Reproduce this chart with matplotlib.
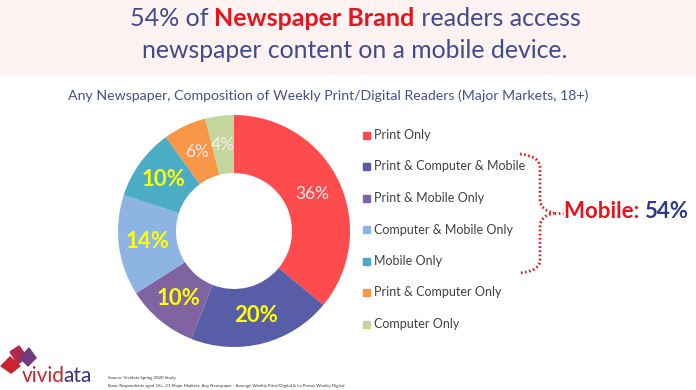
import matplotlib
matplotlib.use("Agg")
import matplotlib.pyplot as plt
import numpy as np
from matplotlib.patches import Rectangle, Polygon, PathPatch
from matplotlib.path import Path

plt.rcParams['font.family'] = ['Lato', 'DejaVu Sans']

categories = ["Print Only", "Print & Computer & Mobile", "Print & Mobile Only",
              "Computer & Mobile Only", "Mobile Only", "Print & Computer Only",
              "Computer Only"]
shares = [36, 20, 10, 14, 10, 6, 4]
colors = ["#FD4B4E", "#575DA6", "#8064A2", "#8EB4E3", "#4BACC6", "#F79646", "#C3D69B"]
bold_labels = [False, True, True, True, True, False, False]
mobile_total = 54

W, H = 696, 390
fig = plt.figure(figsize=(W / 100, H / 100), dpi=100)

# overlay axes in pixel coordinates (y down)
bg = fig.add_axes([0, 0, 1, 1])
bg.set_xlim(0, W)
bg.set_ylim(H, 0)
bg.axis("off")

# header band
bg.add_patch(Rectangle((0, 0), W, 74, color="#FEF2F2", zorder=0))

title_blue = "#3E4C8F"
title_red = "#E8141B"


def draw_runs(runs, x, y, size, align="center"):
    # draw a line made of differently styled pieces
    fig.canvas.draw()
    r = fig.canvas.get_renderer()
    texts = []
    for s, color, weight in runs:
        t = bg.text(0, y, s, color=color, fontweight=weight, fontsize=size,
                    va="center", ha="left")
        texts.append(t)
    widths = [t.get_window_extent(r).width for t in texts]
    if align == "center":
        x = x - sum(widths) / 2
    for t, w in zip(texts, widths):
        t.set_x(x)
        x += w


draw_runs([("54% of ", title_blue, "normal"),
           ("Newspaper Brand", title_red, "bold"),
           (" readers access", title_blue, "normal")], 355, 19, 18)
bg.text(355, 50, "newspaper content on a mobile device.", color=title_blue,
        fontsize=17.8, ha="center", va="center")

bg.text(68, 96, "Any Newspaper, Composition of Weekly Print/Digital Readers (Major Markets, 18+)",
        color="#46508F", fontsize=10.2, ha="left", va="center")

# donut
cx, cy, rad = 234, 231, 116
pie_ax = fig.add_axes([(cx - rad) / W, (H - cy - rad) / H, 2 * rad / W, 2 * rad / H])
wedges, _ = pie_ax.pie(shares, colors=colors, startangle=90, counterclock=False,
                       radius=1.0, wedgeprops=dict(width=0.5, edgecolor="none"))
pie_ax.set_xlim(-1, 1)
pie_ax.set_ylim(-1, 1)
pie_ax.set_aspect("equal")
pie_ax.axis("off")

for w, v, b in zip(wedges, shares, bold_labels):
    ang = np.deg2rad((w.theta1 + w.theta2) / 2)
    x, y = 0.75 * np.cos(ang), 0.75 * np.sin(ang)
    if b:
        pie_ax.text(x, y, f"{v}%", color="#FFFF00", fontweight="bold", fontsize=16,
                    ha="center", va="center")
    else:
        pie_ax.text(x, y, f"{v}%", color="#FDEDED", fontsize=12.5,
                    ha="center", va="center")

# legend
leg_y0, leg_dy = 135, 31.5
for i, (c, col) in enumerate(zip(categories, colors)):
    y = leg_y0 + i * leg_dy
    bg.add_patch(Rectangle((363, y - 3.5), 7, 7, color=col))
    bg.text(374, y, c, color="#404040", fontsize=9.0, ha="left", va="center")

# dotted brace
verts = [(520, 154), (540, 156), (540, 168), (540, 180),
         (540, 200), (540, 210), (554, 213),
         (540, 216), (540, 226), (540, 246),
         (540, 260), (540, 271), (520, 273)]
codes = [Path.MOVETO, Path.CURVE3, Path.CURVE3, Path.LINETO,
         Path.LINETO, Path.CURVE3, Path.CURVE3,
         Path.CURVE3, Path.CURVE3, Path.LINETO,
         Path.LINETO, Path.CURVE3, Path.CURVE3]
bg.add_patch(PathPatch(Path(verts, codes), fill=False, edgecolor="#E8141B",
                       lw=2.0, linestyle=(0, (0.6, 0.9))))
bg.plot([554, 563], [213, 213], color="#E8141B", lw=2.0, linestyle=(0, (0.6, 0.9)))

draw_runs([("Mobile: ", "#E8141B", "bold"), (f"{mobile_total}%", "#2E3A87", "bold")],
          626, 212, 16)

# logo
bg.add_patch(Polygon([(1, 366), (10, 357), (20, 366), (11, 373)], color="#C8242F"))
bg.add_patch(Polygon([(10, 352), (19, 346), (27, 357), (18, 364)], color="#B02A4A"))
bg.add_patch(Polygon([(20, 358), (29, 348), (36, 358), (28, 366)], color="#6E3A80"))
fig.canvas.draw()
tmp = bg.text(22, 376, "vividata", fontsize=15, ha="left", va="center")
full_w = tmp.get_window_extent(fig.canvas.get_renderer()).width
tmp.remove()
bg.text(22, 376, "vivid", color="#C8242F", fontsize=15, ha="left", va="center")
bg.text(20 + full_w, 376, "ata", color="#3D2F7A", fontsize=15, ha="right", va="center")

bg.text(108, 378, "Source: Vividata Spring 2020 Study", color="#333333",
        fontsize=3.2, ha="left", va="center")
bg.text(108, 386, "Base: Respondents aged 18+, 21 Major Markets, Any Newspaper - Average Weekly Print/Digital & La Presse Weekly Digital",
        color="#333333", fontsize=3.2, ha="left", va="center")

fig.savefig("out.png", dpi=100)
